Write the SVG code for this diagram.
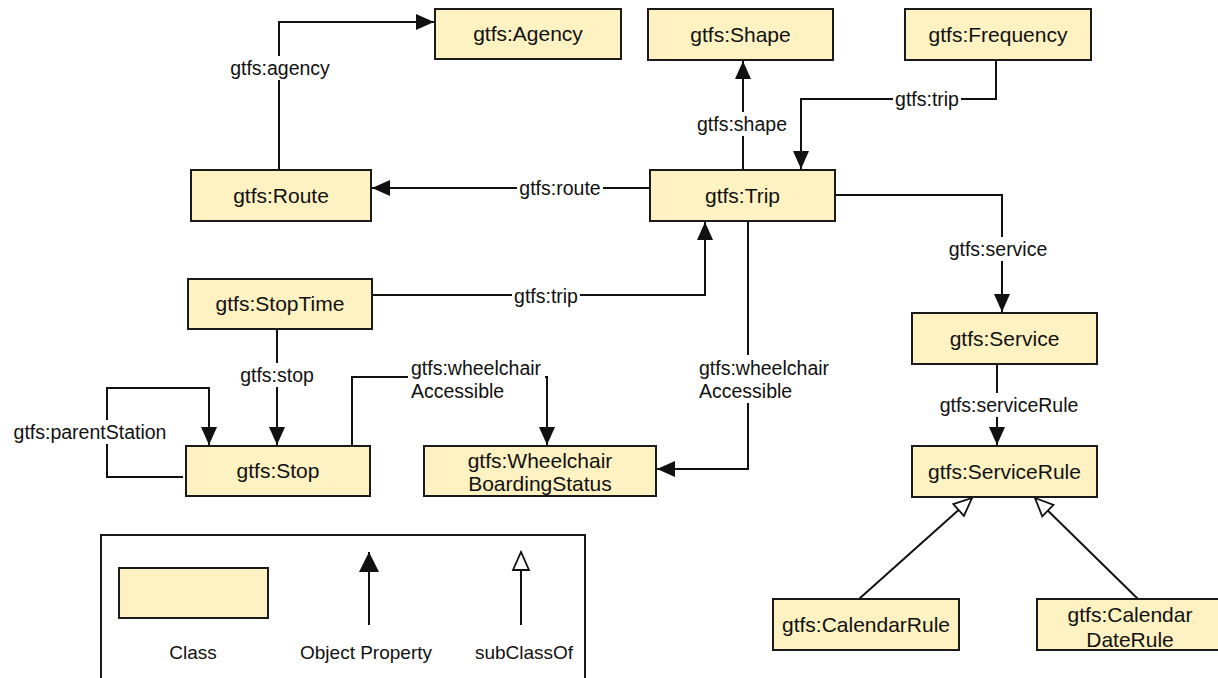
<svg xmlns="http://www.w3.org/2000/svg" width="1218" height="678" viewBox="0 0 1218 678">
<defs>
<style>
.node rect{fill:#fff2c2;stroke:#1a1a1a;stroke-width:2}
.nt{font-family:"Liberation Sans",Arial,sans-serif;font-size:21px;fill:#111;text-anchor:middle}
.edge{fill:none;stroke:#111;stroke-width:2}
.lbl{font-family:"Liberation Sans",Arial,sans-serif;font-size:19.5px;fill:#111;text-anchor:middle}
.lbg{fill:#fff;stroke:none}
.lg{font-family:"Liberation Sans",Arial,sans-serif;font-size:19px;fill:#111;text-anchor:middle}
</style>
<marker id="arr" markerUnits="userSpaceOnUse" markerWidth="20" markerHeight="18" refX="19" refY="9" orient="auto">
<path d="M1,1 L19,9 L1,17 z" fill="#111"/>
</marker>
<marker id="arrL" markerUnits="userSpaceOnUse" markerWidth="22" markerHeight="22" refX="21" refY="11" orient="auto">
<path d="M1,1 L21,11 L1,21 z" fill="#111"/>
</marker>
<marker id="tri" markerUnits="userSpaceOnUse" markerWidth="22" markerHeight="20" refX="20" refY="10" orient="auto">
<path d="M2,2 L20,10 L2,18 z" fill="#fff" stroke="#111" stroke-width="1.8"/>
</marker>
</defs>
<rect width="1218" height="678" fill="#fff"/>

<g id="connectors">
<path class="edge" d="M279,170 V22 H434" marker-end="url(#arr)"/>
<path class="edge" d="M743,170 V61" marker-end="url(#arr)"/>
<path class="edge" d="M996,60 V99 H801 V169" marker-end="url(#arr)"/>
<path class="edge" d="M650,188 H372" marker-end="url(#arr)"/>
<path class="edge" d="M835,195 H1002 V312" marker-end="url(#arr)"/>
<path class="edge" d="M372,295 H705 V222" marker-end="url(#arr)"/>
<path class="edge" d="M748,221 V469 H657" marker-end="url(#arr)"/>
<path class="edge" d="M277,329 V445" marker-end="url(#arr)"/>
<path class="edge" d="M183,477 H107 V388 H209 V445" marker-end="url(#arr)"/>
<path class="edge" d="M352,446 V377 H547 V445" marker-end="url(#arr)"/>
<path class="edge" d="M997,364 V445" marker-end="url(#arr)"/>
<path class="edge" d="M859,599 L972,498" marker-end="url(#tri)"/>
<path class="edge" d="M1138,599 L1035,498" marker-end="url(#tri)"/>

<rect class="lbg" x="237" y="56" width="106" height="24"/>
<text class="lbl" x="280" y="75">gtfs:agency</text>
<rect class="lbg" x="692" y="112" width="100" height="24"/>
<text class="lbl" x="742" y="131">gtfs:shape</text>
<rect class="lbg" x="893" y="88" width="68" height="24"/>
<text class="lbl" x="927" y="106">gtfs:trip</text>
<rect class="lbg" x="517" y="176" width="86" height="24"/>
<text class="lbl" x="560" y="195">gtfs:route</text>
<rect class="lbg" x="946" y="237" width="104" height="24"/>
<text class="lbl" x="998" y="256">gtfs:service</text>
<rect class="lbg" x="512" y="284" width="68" height="24"/>
<text class="lbl" x="546" y="303">gtfs:trip</text>
<rect class="lbg" x="697" y="355" width="137" height="48"/>
<text class="lbl" x="699" y="375" style="text-anchor:start">gtfs:wheelchair</text>
<text class="lbl" x="699" y="398" style="text-anchor:start">Accessible</text>
<rect class="lbg" x="237" y="363" width="80" height="24"/>
<text class="lbl" x="277" y="382">gtfs:stop</text>
<rect class="lbg" x="10" y="420" width="160" height="24"/>
<text class="lbl" x="90" y="439">gtfs:parentStation</text>
<rect class="lbg" x="408" y="356" width="137" height="46"/>
<text class="lbl" x="411" y="375" style="text-anchor:start">gtfs:wheelchair</text>
<text class="lbl" x="411" y="398" style="text-anchor:start">Accessible</text>
<rect class="lbg" x="936" y="393" width="146" height="24"/>
<text class="lbl" x="1009" y="412">gtfs:serviceRule</text>
</g>

<g id="agency" class="node"><rect x="435" y="9" width="186" height="50"/><text class="nt" x="528" y="41">gtfs:Agency</text></g>
<g id="shape" class="node"><rect x="648" y="9" width="185" height="51"/><text class="nt" x="740.5" y="42">gtfs:Shape</text></g>
<g id="frequency" class="node"><rect x="905" y="9" width="186" height="51"/><text class="nt" x="998" y="42">gtfs:Frequency</text></g>
<g id="route" class="node"><rect x="191" y="170" width="180" height="51"/><text class="nt" x="281" y="203">gtfs:Route</text></g>
<g id="trip" class="node"><rect x="650" y="170" width="185" height="51"/><text class="nt" x="742.5" y="203">gtfs:Trip</text></g>
<g id="stoptime" class="node"><rect x="188" y="279" width="184" height="50"/><text class="nt" x="280" y="311">gtfs:StopTime</text></g>
<g id="service" class="node"><rect x="912" y="313" width="185" height="51"/><text class="nt" x="1004.5" y="346">gtfs:Service</text></g>
<g id="stop" class="node"><rect x="186" y="446" width="184" height="50"/><text class="nt" x="278" y="478">gtfs:Stop</text></g>
<g id="wheelchairboardingstatus" class="node"><rect x="424" y="446" width="232" height="50"/><text class="nt" x="540" y="468">gtfs:Wheelchair</text><text class="nt" x="540" y="491">BoardingStatus</text></g>
<g id="servicerule" class="node"><rect x="912" y="446" width="185" height="51"/><text class="nt" x="1004.5" y="479">gtfs:ServiceRule</text></g>
<g id="calendarrule" class="node"><rect x="773" y="599" width="186" height="51"/><text class="nt" x="866" y="632">gtfs:CalendarRule</text></g>
<g id="calendardaterule" class="node"><rect x="1037" y="599" width="186" height="51"/><text class="nt" x="1130" y="622">gtfs:Calendar</text><text class="nt" x="1130" y="647">DateRule</text></g>

<g id="legend">
<rect x="101" y="535" width="484" height="200" fill="none" stroke="#1a1a1a" stroke-width="2"/>
<rect x="119" y="568" width="149" height="50" fill="#fff2c2" stroke="#1a1a1a" stroke-width="2"/>
<path class="edge" d="M369,625 V552" marker-end="url(#arrL)"/>
<path class="edge" d="M521,625 V552" marker-end="url(#tri)"/>
<text class="lg" x="193" y="659">Class</text>
<text class="lg" x="366" y="659">Object Property</text>
<text class="lg" x="524" y="659">subClassOf</text>
</g>
</svg>
